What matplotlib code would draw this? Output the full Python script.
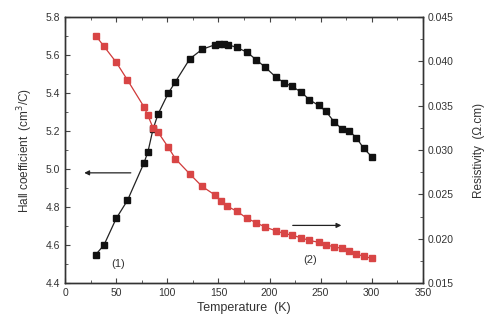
import matplotlib
matplotlib.use('Agg')
import matplotlib.pyplot as plt
from matplotlib.ticker import MultipleLocator

plt.rcParams['font.family'] = ['Liberation Sans', 'DejaVu Sans']

# Hall coefficient, curve (1)
temp_hall = [30, 38, 50, 61, 77, 81, 86, 91, 101, 108, 122, 134, 147, 151, 155, 159,
             168, 178, 187, 196, 206, 214, 222, 231, 239, 248, 255, 263, 271, 278,
             285, 292, 300]
hall = [4.55, 4.60, 4.74, 4.835, 5.03, 5.09, 5.21, 5.29, 5.40, 5.46, 5.58, 5.63,
        5.655, 5.66, 5.66, 5.655, 5.64, 5.615, 5.575, 5.535, 5.485, 5.455, 5.435,
        5.405, 5.365, 5.335, 5.305, 5.25, 5.21, 5.20, 5.165, 5.11, 5.065]

# resistivity, curve (2)
temp_res = [30, 38, 50, 61, 77, 81, 86, 91, 101, 108, 122, 134, 147, 153, 158, 168,
            178, 187, 196, 206, 214, 222, 231, 239, 248, 255, 263, 271, 278, 285,
            292, 300]
resist = [0.0429, 0.0417, 0.0399, 0.0379, 0.0349, 0.0339, 0.0325, 0.0320, 0.0303,
          0.0290, 0.0273, 0.0259, 0.0249, 0.0242, 0.0237, 0.0231, 0.0223, 0.0218,
          0.0213, 0.0209, 0.0206, 0.0204, 0.0201, 0.0198, 0.0196, 0.0193, 0.0191,
          0.0189, 0.0186, 0.0183, 0.0180, 0.0178]

txt = '#333333'
fig = plt.figure(figsize=(4.86, 3.22), dpi=100)
ax = fig.add_axes([0.134, 0.121, 0.736, 0.826])
ax2 = ax.twinx()

ax.plot(temp_hall, hall, color='#222222', lw=0.9, marker='s', ms=3.7,
        mfc='#111111', mec='#111111', zorder=3)
ax2.plot(temp_res, resist, color='#d03a3a', lw=0.9, marker='s', ms=3.7,
         mfc='#d84545', mec='#d84545', zorder=3)

ax.set_xlim(0, 350)
ax.set_ylim(4.4, 5.8)
ax2.set_ylim(0.015, 0.045)

ax.xaxis.set_major_locator(MultipleLocator(50))
ax.xaxis.set_minor_locator(MultipleLocator(25))
ax.yaxis.set_major_locator(MultipleLocator(0.2))
ax.yaxis.set_minor_locator(MultipleLocator(0.1))
ax2.yaxis.set_major_locator(MultipleLocator(0.005))
ax2.yaxis.set_minor_locator(MultipleLocator(0.0025))
ax.yaxis.set_major_formatter(plt.FormatStrFormatter('%.1f'))
ax2.yaxis.set_major_formatter(plt.FormatStrFormatter('%.3f'))

ax.tick_params(which='both', direction='in', top=True, right=False,
               labelsize=7.5, labelcolor=txt, color='#444444')
ax.tick_params(which='major', length=3.5)
ax.tick_params(which='minor', length=2)
ax2.tick_params(which='both', direction='in', labelsize=7.5, labelcolor=txt,
                color='#444444')
ax2.tick_params(which='major', length=3.5)
ax2.tick_params(which='minor', length=2)
for a in (ax, ax2):
    for s in a.spines.values():
        s.set_linewidth(1.0)
        s.set_color('#333333')

ax.set_xlabel('Temperature  (K)', fontsize=9, color=txt, labelpad=3)
ax.set_ylabel('Hall coefficient  (cm$^3$/C)', fontsize=8.5, color=txt, labelpad=8)
ax2.set_ylabel('Resistivity  (\u03a9.cm)', fontsize=8.5, color=txt, rotation=90,
               labelpad=14)

ax.annotate('', xy=(16, 4.98), xytext=(67, 4.98),
            arrowprops=dict(arrowstyle='-|>', color='#222222', lw=0.9,
                            mutation_scale=7))
ax2.annotate('', xy=(273, 0.0215), xytext=(220, 0.0215),
             arrowprops=dict(arrowstyle='-|>', color='#222222', lw=0.9,
                             mutation_scale=7))
ax.text(52, 4.50, '(1)', fontsize=8, color=txt, ha='center', va='center')
ax2.text(240, 0.0176, '(2)', fontsize=8, color=txt, ha='center', va='center')

fig.savefig('out.png', dpi=100)
